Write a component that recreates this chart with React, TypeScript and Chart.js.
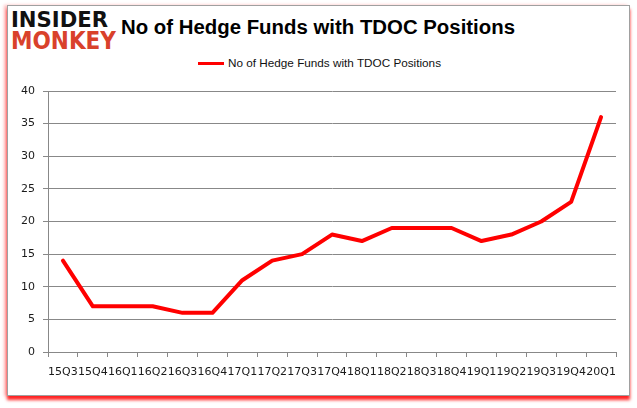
import React, { useEffect, useLayoutEffect, useRef } from "react";
import { Chart, registerables } from "chart.js";

Chart.register(...registerables);

const TITLE = "No of Hedge Funds with TDOC Positions";
const SERIES_LABEL = "No of Hedge Funds with TDOC Positions";
const QUARTERS = [
  "15Q3", "15Q4", "16Q1", "16Q2", "16Q3", "16Q4", "17Q1", "17Q2", "17Q3", "17Q4",
  "18Q1", "18Q2", "18Q3", "18Q4", "19Q1", "19Q2", "19Q3", "19Q4", "20Q1",
];
const HEDGE_FUNDS = [14, 7, 7, 7, 6, 6, 11, 14, 15, 18, 17, 19, 19, 19, 17, 18, 20, 23, 36];
const Y_MIN = 0;
const Y_MAX = 40;
const Y_STEP = 5;

const GRID = "#888888";
const LINE = "#ff0000";

function FitText(props: { text: string; width: number; style: React.CSSProperties }) {
  const ref = useRef<HTMLSpanElement | null>(null);
  useLayoutEffect(() => {
    const el = ref.current;
    if (!el) return;
    el.style.transform = "none";
    const w = el.getBoundingClientRect().width;
    if (w > 0) el.style.transform = `scaleX(${props.width / w})`;
  }, [props.text, props.width]);
  return (
    <span
      ref={ref}
      style={{
        position: "absolute",
        whiteSpace: "nowrap",
        display: "inline-block",
        transformOrigin: "0 0",
        ...props.style,
      }}
    >
      {props.text}
    </span>
  );
}

export default function App() {
  const canvasRef = useRef<HTMLCanvasElement | null>(null);

  useEffect(() => {
    const canvas = canvasRef.current;
    if (!canvas) return;
    const chart = new Chart(canvas, {
      type: "line",
      data: {
        labels: QUARTERS,
        datasets: [
          {
            label: SERIES_LABEL,
            data: HEDGE_FUNDS,
            borderColor: LINE,
            backgroundColor: LINE,
            borderWidth: 4,
            borderCapStyle: "round",
            borderJoinStyle: "round",
            pointRadius: 0,
            pointHoverRadius: 0,
            tension: 0,
            fill: false,
          },
        ],
      },
      options: {
        animation: false,
        responsive: false,
        maintainAspectRatio: false,
        devicePixelRatio: 1,
        layout: { padding: { left: 0, right: 21, top: 91, bottom: 0 } },
        plugins: {
          legend: { display: false },
          title: { display: false },
          tooltip: { enabled: false },
        },
        scales: {
          x: {
            type: "category",
            offset: true,
            grid: {
              offset: true,
              drawOnChartArea: false,
              drawTicks: true,
              tickLength: 5,
              color: GRID,
            },
            border: { color: GRID, width: 1 },
            ticks: {
              color: "#1a1a1a",
              font: { family: "DejaVu Sans", size: 11 },
              padding: 9,
              maxRotation: 0,
              minRotation: 0,
              autoSkip: false,
            },
            afterFit: (s: any) => {
              s.height = 56;
            },
          },
          y: {
            min: Y_MIN,
            max: Y_MAX,
            ticks: {
              stepSize: Y_STEP,
              color: "#1a1a1a",
              font: { family: "DejaVu Sans", size: 11 },
              padding: 8,
            },
            grid: { color: GRID, tickLength: 5, lineWidth: 1 },
            border: { color: GRID, width: 1 },
            afterFit: (s: any) => {
              s.width = 48;
            },
          },
        },
      },
    });
    return () => chart.destroy();
  }, []);

  return (
    <div style={{ position: "fixed", left: 0, top: 0, width: 637, height: 408, background: "#ffffff", overflow: "hidden" }}>
      <div
        style={{
          position: "absolute",
          left: 7,
          top: 5,
          width: 623,
          height: 391,
          boxSizing: "border-box",
          border: "1px solid #a0a0a0",
          background: "#ffffff",
          boxShadow: "0 4px 3px rgba(255,0,0,0.85), -3px 0 3px rgba(255,110,110,0.45)",
        }}
      />
      <FitText
        text="INSIDER"
        width={97}
        style={{ left: 11, top: 9, fontFamily: "DejaVu Sans", fontWeight: 900, fontSize: 22, lineHeight: "22px", color: "#111111" }}
      />
      <FitText
        text="MONKEY"
        width={105}
        style={{ left: 11, top: 29, fontFamily: "DejaVu Sans", fontWeight: 900, fontSize: 24, lineHeight: "24px", color: "#d9412b" }}
      />
      <FitText
        text={TITLE}
        width={394}
        style={{ left: 121, top: 17, fontFamily: "Liberation Sans", fontWeight: 700, fontSize: 20, lineHeight: "20px", color: "#000000" }}
      />
      <div style={{ position: "absolute", left: 198, top: 62, width: 26, height: 3, background: LINE }} />
      <FitText
        text={SERIES_LABEL}
        width={213}
        style={{ left: 228, top: 58, fontFamily: "Liberation Sans", fontSize: 11, lineHeight: "11px", color: "#111111" }}
      />
      <canvas ref={canvasRef} width={637} height={408} style={{ position: "absolute", left: 0, top: 0, width: 637, height: 408 }} />
    </div>
  );
}
